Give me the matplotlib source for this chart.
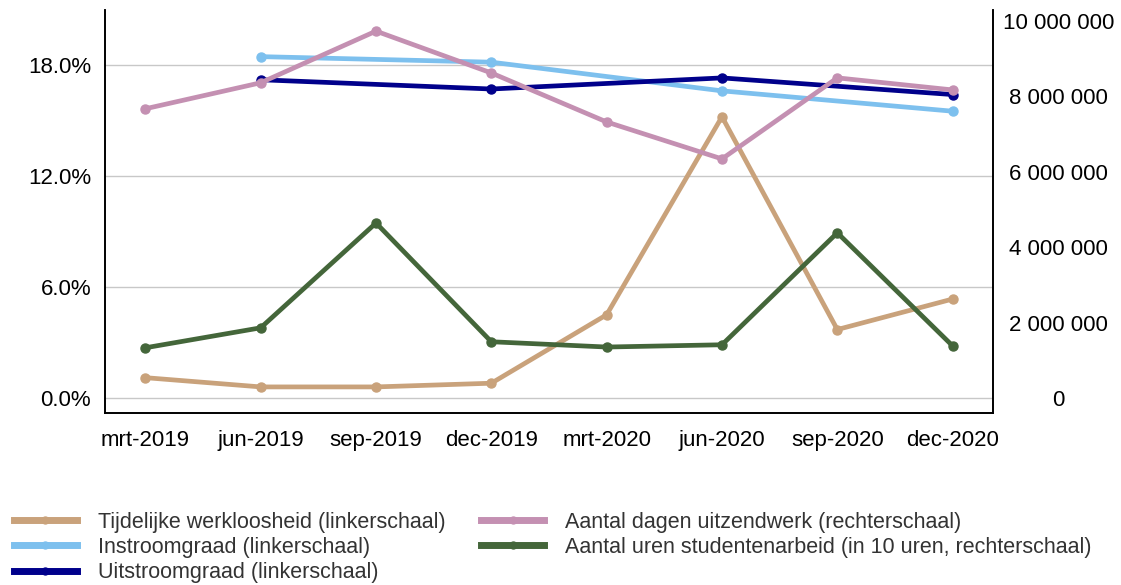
import matplotlib.pyplot as plt
import numpy as np
from matplotlib.ticker import FuncFormatter

plt.rcParams["font.family"] = ["Liberation Sans", "DejaVu Sans"]

kwartalen = ["mrt-2019", "jun-2019", "sep-2019", "dec-2019",
             "mrt-2020", "jun-2020", "sep-2020", "dec-2020"]

# left axis (%)
tijdelijke_werkloosheid = [1.1, 0.6, 0.6, 0.8, 4.5, 15.2, 3.7, 5.35]
instroomgraad = [np.nan, 18.45, np.nan, 18.15, np.nan, 16.6, np.nan, 15.5]
uitstroomgraad = [np.nan, 17.2, np.nan, 16.7, np.nan, 17.3, np.nan, 16.4]

# right axis
dagen_uitzendwerk = [7.67e6, 8.36e6, 9.73e6, 8.62e6, 7.32e6, 6.34e6, 8.49e6, 8.17e6]
uren_studentenarbeid = [1.33e6, 1.86e6, 4.64e6, 1.49e6, 1.35e6, 1.41e6, 4.38e6, 1.38e6]

labels = ["Tijdelijke werkloosheid (linkerschaal)",
          "Instroomgraad (linkerschaal)",
          "Uitstroomgraad (linkerschaal)",
          "Aantal dagen uitzendwerk (rechterschaal)",
          "Aantal uren studentenarbeid (in 10 uren, rechterschaal)"]
colors = ["#C9A27B", "#7DC0EE", "#00008B", "#C490B2", "#44663A"]

fig = plt.figure(figsize=(11.21, 5.85), dpi=100)
ax = fig.add_axes([105 / 1121, 1 - 413 / 585, 888 / 1121, 403 / 585])
ax2 = ax.twinx()

x = np.arange(len(kwartalen))
style = dict(linewidth=3.4, marker="o", markersize=6.5)

handles = []
for vals, c, lab in zip([tijdelijke_werkloosheid, instroomgraad, uitstroomgraad], colors[:3], labels[:3]):
    v = np.array(vals, dtype=float)
    m = ~np.isnan(v)
    h, = ax.plot(x[m], v[m], color=c, label=lab, **style)
    handles.append(h)
for vals, c, lab in zip([dagen_uitzendwerk, uren_studentenarbeid], colors[3:], labels[3:]):
    h, = ax2.plot(x, vals, color=c, label=lab, **style)
    handles.append(h)

ax.set_xlim(-0.35, 7.35)
ax.set_ylim(-0.81, 20.97)
ax2.set_ylim(-0.4e6, 10.29e6)

ax.set_yticks([0, 6, 12, 18])
ax.yaxis.set_major_formatter(FuncFormatter(lambda v, p: f"{v:.1f}%"))
ax2.set_yticks(np.arange(0, 10.1e6, 2e6))
ax2.yaxis.set_major_formatter(FuncFormatter(lambda v, p: f"{int(v):,}".replace(",", " ")))

ax.set_xticks(x)
ax.set_xticklabels(kwartalen)
ax.grid(axis="y", color="#C8C8C8", linewidth=1)
ax.set_axisbelow(True)

ax.tick_params(axis="both", length=0, labelsize=16)
ax.tick_params(axis="x", pad=12)
ax.tick_params(axis="y", pad=10)
ax2.tick_params(axis="y", length=0, labelsize=16, pad=47)
for t in ax2.get_yticklabels():
    t.set_horizontalalignment("center")

for a in (ax, ax2):
    a.spines["top"].set_visible(False)
    for s in ("left", "right", "bottom"):
        a.spines[s].set_color("black")
        a.spines[s].set_linewidth(1.2)

leg = fig.legend(handles=handles, ncol=2, loc="upper left",
                 bbox_to_anchor=(0.005, 0.14), frameon=False,
                 fontsize=15.5, handlelength=2.9, handletextpad=1.0,
                 columnspacing=1.65, labelspacing=0.2, borderaxespad=0)
for t in leg.get_texts():
    t.set_color("#333333")
for lh in leg.legend_handles:
    lh.set_linewidth(5)
    lh.set_markersize(5)

fig.savefig("out.png", dpi=100)
